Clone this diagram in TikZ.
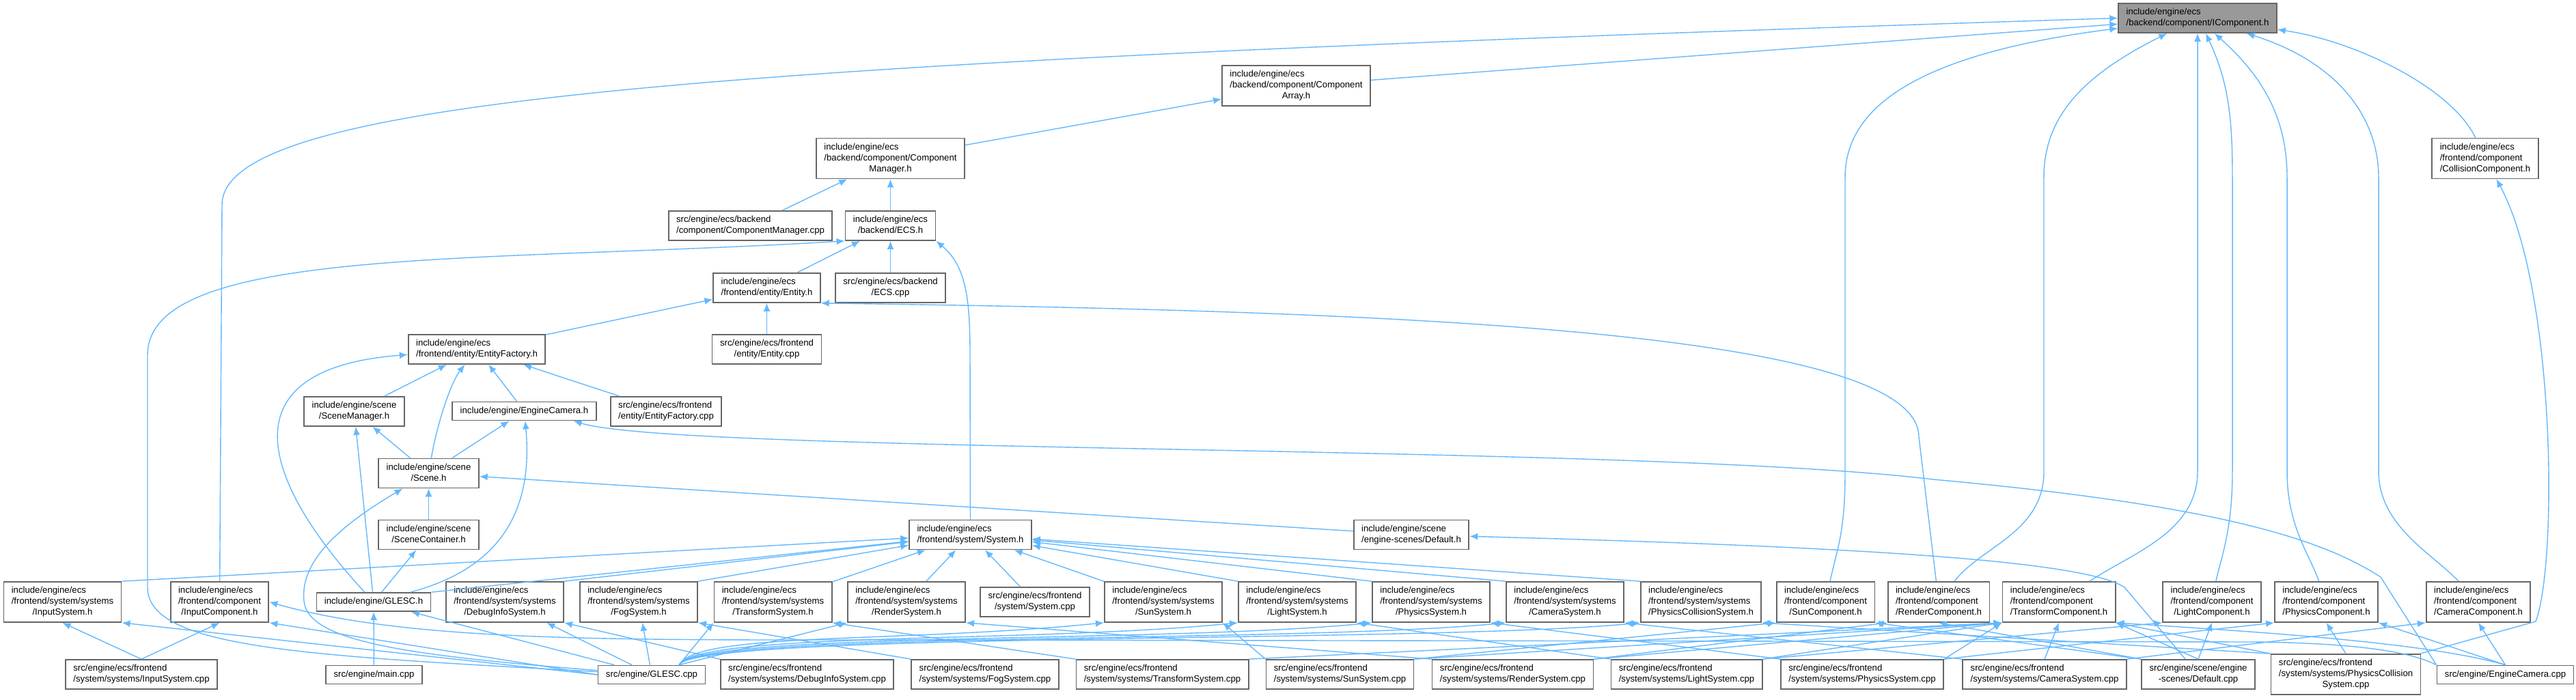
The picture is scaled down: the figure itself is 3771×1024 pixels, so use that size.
\documentclass[tikz,border=0pt]{standalone}
\usepackage{fontspec}
\usetikzlibrary{arrows.meta,calc}
\newfontfamily\dxfont{Liberation Sans}
\definecolor{edgeblue}{HTML}{63B8FF}
\definecolor{boxline}{HTML}{666666}
\definecolor{rootfill}{HTML}{999999}
\newcommand{\lns}[2]{\begin{tabular}{@{}l@{}}#1\\\multicolumn{1}{@{}c@{}}{#2}\end{tabular}}

\begin{document}
\begin{tikzpicture}[x=0.02cm, y=-0.02cm,
    fl/.style={draw=boxline, fill=white, line width=1pt, inner xsep=6.5pt, inner ysep=0pt,
               font=\dxfont\fontsize{7.5}{9.1}\selectfont},
    f1/.style={fl, minimum height=0.54cm},
    f2/.style={fl, minimum height=0.86cm},
    f3/.style={fl, minimum height=1.18cm},
    dep/.style={draw=edgeblue, line width=0.8pt, {Latex[length=0.24cm,width=0.2cm]}-}]
\useasboundingbox (0,0) rectangle (3771,1024);

% upper part
\node[f2, fill=rootfill] (ic) at (3217,26.5) {\lns{include/engine/ecs}{/backend/component/IComponent.h}};
\node[f3] (coll)    at (3638,232)    {\lns{include/engine/ecs\\/frontend/component}{/CollisionComponent.h}};
\node[f3] (carr)    at (1897.5,125.5) {\lns{include/engine/ecs\\/backend/component/Component}{Array.h}};
\node[f3] (cmgr)    at (1303.5,232)  {\lns{include/engine/ecs\\/backend/component/Component}{Manager.h}};
\node[f2] (cmgrcpp) at (1098.5,330.5) {\lns{src/engine/ecs/backend}{/component/ComponentManager.cpp}};
\node[f2] (ecsh)    at (1303.5,330.5) {\lns{include/engine/ecs}{/backend/ECS.h}};
\node[f2] (enth)    at (1122.5,421.5) {\lns{include/engine/ecs}{/frontend/entity/Entity.h}};
\node[f2] (ecscpp)  at (1303.5,421.5) {\lns{src/engine/ecs/backend}{/ECS.cpp}};
\node[f2] (entcpp)  at (1122.5,511.5) {\lns{src/engine/ecs/frontend}{/entity/Entity.cpp}};
\node[f2] (efh)     at (698,511.5)   {\lns{include/engine/ecs}{/frontend/entity/EntityFactory.h}};
\node[f2] (smgr)    at (518.5,602.5) {\lns{include/engine/scene}{/SceneManager.h}};
\node[f1] (ecam)    at (767.5,602)   {include/engine/EngineCamera.h};
\node[f2] (efcpp)   at (975,602.5)   {\lns{src/engine/ecs/frontend}{/entity/EntityFactory.cpp}};
\node[f2] (scene)   at (627.5,693)   {\lns{include/engine/scene}{/Scene.h}};
\node[f2] (scont)   at (627.5,783)   {\lns{include/engine/scene}{/SceneContainer.h}};
\node[f2] (sysh)    at (1420.5,783)  {\lns{include/engine/ecs}{/frontend/system/System.h}};
\node[f2] (defh)    at (2066,783)    {\lns{include/engine/scene}{/engine-scenes/Default.h}};

% header row
\node[f3] (insysh)  at (91.5,881.5)  {\lns{include/engine/ecs\\/frontend/system/systems}{/InputSystem.h}};
\node[f3] (incomp)  at (321.5,881.5) {\lns{include/engine/ecs\\/frontend/component}{/InputComponent.h}};
\node[f1] (gleh)    at (547,881.5)   {include/engine/GLESC.h};
\node[f3] (dbgh)    at (739,881.5)   {\lns{include/engine/ecs\\/frontend/system/systems}{/DebugInfoSystem.h}};
\node[f3] (fogh)    at (935,881.5)   {\lns{include/engine/ecs\\/frontend/system/systems}{/FogSystem.h}};
\node[f3] (trsh)    at (1131.5,881.5) {\lns{include/engine/ecs\\/frontend/system/systems}{/TransformSystem.h}};
\node[f3] (rnsh)    at (1327,881.5)  {\lns{include/engine/ecs\\/frontend/system/systems}{/RenderSystem.h}};
\node[f2] (syscpp)  at (1515,881.5)  {\lns{src/engine/ecs/frontend}{/system/System.cpp}};
\node[f3] (sunh)    at (1703,881.5)  {\lns{include/engine/ecs\\/frontend/system/systems}{/SunSystem.h}};
\node[f3] (lith)    at (1899,881.5)  {\lns{include/engine/ecs\\/frontend/system/systems}{/LightSystem.h}};
\node[f3] (phyh)    at (2095,881.5)  {\lns{include/engine/ecs\\/frontend/system/systems}{/PhysicsSystem.h}};
\node[f3] (camh)    at (2291,881.5)  {\lns{include/engine/ecs\\/frontend/system/systems}{/CameraSystem.h}};
\node[f3] (pcolh)   at (2490,881.5)  {\lns{include/engine/ecs\\/frontend/system/systems}{/PhysicsCollisionSystem.h}};
\node[f3] (suncomp) at (2672.5,881.5) {\lns{include/engine/ecs\\/frontend/component}{/SunComponent.h}};
\node[f3] (rncomp)  at (2838,881.5)  {\lns{include/engine/ecs\\/frontend/component}{/RenderComponent.h}};
\node[f3] (trcomp)  at (3014,881.5)  {\lns{include/engine/ecs\\/frontend/component}{/TransformComponent.h}};
\node[f3] (licomp)  at (3238,881.5)  {\lns{include/engine/ecs\\/frontend/component}{/LightComponent.h}};
\node[f3] (phcomp)  at (3405.5,881.5) {\lns{include/engine/ecs\\/frontend/component}{/PhysicsComponent.h}};
\node[f3] (cacomp)  at (3628,881.5)  {\lns{include/engine/ecs\\/frontend/component}{/CameraComponent.h}};

% source row
\node[f2] (insyscpp) at (207,987.5)  {\lns{src/engine/ecs/frontend}{/system/systems/InputSystem.cpp}};
\node[f1] (maincpp)  at (547.5,988)  {src/engine/main.cpp};
\node[f1] (glecpp)   at (954,988)    {src/engine/GLESC.cpp};
\node[f2] (dbgcpp)   at (1181.5,987.5) {\lns{src/engine/ecs/frontend}{/system/systems/DebugInfoSystem.cpp}};
\node[f2] (fogcpp)   at (1442,987.5) {\lns{src/engine/ecs/frontend}{/system/systems/FogSystem.cpp}};
\node[f2] (trscpp)   at (1701.5,987.5) {\lns{src/engine/ecs/frontend}{/system/systems/TransformSystem.cpp}};
\node[f2] (suncpp)   at (1961.5,987.5) {\lns{src/engine/ecs/frontend}{/system/systems/SunSystem.cpp}};
\node[f2] (rnscpp)   at (2214.5,987.5) {\lns{src/engine/ecs/frontend}{/system/systems/RenderSystem.cpp}};
\node[f2] (litcpp)   at (2469,987.5) {\lns{src/engine/ecs/frontend}{/system/systems/LightSystem.cpp}};
\node[f2] (phycpp)   at (2726,987.5) {\lns{src/engine/ecs/frontend}{/system/systems/PhysicsSystem.cpp}};
\node[f2] (camcpp)   at (2993,987.5) {\lns{src/engine/ecs/frontend}{/system/systems/CameraSystem.cpp}};
\node[f2] (defcpp)   at (3218,987.5) {\lns{src/engine/scene/engine}{-scenes/Default.cpp}};
\node[f3] (pcolcpp)  at (3434,987.5) {\lns{src/engine/ecs/frontend\\/system/systems/PhysicsCollision}{System.cpp}};
\node[f1] (ecamcpp)  at (3667.5,988) {src/engine/EngineCamera.cpp};
\coordinate (gin) at ($(glecpp.north)+(40,0)$);

% straight includes
\foreach \a/\b in {ic/carr, carr/cmgr, cmgr/cmgrcpp, cmgr/ecsh, ecsh/enth, ecsh/ecscpp,
    enth/entcpp, enth/efh, efh/smgr, efh/ecam, efh/efcpp, smgr/scene, ecam/scene,
    smgr/gleh, scene/scont, scene/defh, scont/gleh, gleh/maincpp, gleh/glecpp,
    sysh/trsh, sysh/rnsh, sysh/syscpp, sysh/sunh, fogh/glecpp, dbgh/glecpp}
  \draw[dep] (\a) -- (\b);
\foreach \b/\q in {insysh/north east, gleh/north east, dbgh/north east, fogh/north east,
    lith/north west, phyh/north west, camh/north west, pcolh/north west}
  \draw[dep] (sysh) -- (\b.\q);
\foreach \a/\p/\b/\q in {insysh/south/insyscpp/north, incomp/south/insyscpp/north,
    insysh/south east/glecpp/west, incomp/south east/glecpp/west,
    dbgh/south east/dbgcpp/north west, fogh/south east/fogcpp/north west,
    trsh/south east/trscpp/north west, rnsh/south east/rnscpp/north west,
    sunh/south east/suncpp/north west, lith/south east/litcpp/north west,
    phyh/south east/phycpp/north west, camh/south east/camcpp/north west,
    pcolh/south east/pcolcpp/north west,
    suncomp/south west/suncpp/north east, suncomp/south east/defcpp/north west,
    rncomp/south west/rnscpp/north east, rncomp/south/defcpp/north west,
    trcomp/south west/trscpp/north east, trcomp/south west/rnscpp/north east,
    trcomp/south west/suncpp/north east, trcomp/south west/litcpp/north east,
    trcomp/south west/phycpp/north east, trcomp/south/camcpp/north,
    trcomp/south east/defcpp/north, trcomp/south east/pcolcpp/north west,
    licomp/south west/litcpp/north east, licomp/south/defcpp/north,
    phcomp/south west/phycpp/north east, phcomp/south/pcolcpp/north,
    phcomp/south east/ecamcpp/north, cacomp/south west/camcpp/north east,
    cacomp/south/ecamcpp/north}
  \draw[dep] (\a.\p) -- (\b.\q);
\draw[dep] (trsh.south west) -- (gin);
\draw[dep] (rnsh.south west) -- (gin);
\foreach \b in {sunh, lith, phyh, camh, pcolh}
  \draw[dep] (\b.south west) .. controls ($(\b.south west)+(-300,30)$) and (1020,925) .. (gin);

% long routes
\draw[dep] (ic.west) .. controls (1100,90) and (325,140) .. (325,300) -- (incomp);
\draw[dep] (ic) .. controls (2800,80) and (2701,160) .. (2701,260) -- (2701,690)
  .. controls (2701,780) and (2690,800) .. (suncomp);
\draw[dep] (ic) .. controls (3050,110) and (2992,170) .. (2992,260) -- (2992,690)
  .. controls (2992,780) and (2900,800) .. (rncomp);
\draw[dep] (ic.south) -- (3217,690) .. controls (3217,780) and (3120,810) .. (trcomp);
\draw[dep] ($(ic.south)+(12,0)$) .. controls (3262,120) and (3268,170) .. (3268,260) -- (3268,690)
  .. controls (3268,780) and (3250,820) .. (licomp);
\draw[dep] (ic) .. controls (3310,110) and (3348,170) .. (3348,260) -- (3348,690)
  .. controls (3348,770) and (3380,810) .. (phcomp);
\draw[dep] (ic) .. controls (3420,90) and (3482,170) .. (3482,260) -- (3482,690)
  .. controls (3482,770) and (3560,810) .. (cacomp);
\draw[dep] (ic) .. controls (3450,60) and (3590,130) .. (coll);
\draw[dep] (coll) .. controls (3740,420) and (3745,820) .. (3712,910) -- (pcolcpp);
\draw[dep] (ecsh.south east) .. controls (1415,390) and (1420,440) .. (1420,520) -- (sysh);
\draw[dep] (ecsh.south west) .. controls (700,385) and (216,360) .. (216,520) -- (216,860)
  .. controls (216,950) and (450,960) .. (glecpp);
\draw[dep] (enth.south east) .. controls (2000,455) and (2809,480) .. (2809,640) -- (rncomp);
\draw[dep] (efh) .. controls (330,540) and (380,700) .. (gleh);
\draw[dep] (efh) .. controls (660,560) and (640,620) .. (scene);
\draw[dep] (ecam) .. controls (780,740) and (740,830) .. (gleh);
\draw[dep] ($(ecam.south east)+(-34,0)$) .. controls (1000,665) and (2400,650) .. (2830,702)
  .. controls (3250,740) and (3400,790) .. (3485,845) -- (ecamcpp.north west);
\draw[dep] (scene) .. controls (480,780) and (440,830) .. (445,880)
  .. controls (450,940) and (600,960) .. (glecpp);
\draw[dep] (defh) .. controls (2700,800) and (3050,820) .. (3110,860) -- (defcpp);
\draw[dep] (incomp.east) .. controls (600,940) and (900,937) .. (1300,937) -- (3300,940)
  .. controls (3480,942) and (3540,960) .. (ecamcpp.north west);
\draw[dep] (trcomp.south east) .. controls (3300,925) and (3550,940) .. (ecamcpp.north);
\end{tikzpicture}
\end{document}
